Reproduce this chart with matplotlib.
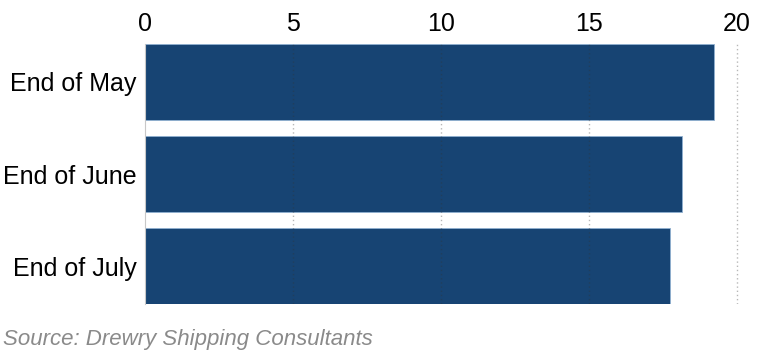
import matplotlib.pyplot as plt

# container spot rates by month-end
categories = ["End of May", "End of June", "End of July"]
values = [19.22, 18.13, 17.73]
xticks = [0, 5, 10, 15, 20]

plt.rcParams['font.family'] = ['Liberation Sans', 'DejaVu Sans']

fig = plt.figure(figsize=(7.69, 3.52), dpi=100)
W, H = 769, 352
x0, px_per = 145, 29.6
xmax = 20.2
ax = fig.add_axes([x0 / W, 1 - 304 / H, xmax * px_per / W, 260 / H])

ax.barh(range(len(categories)), values, height=0.82, color='#174473',
        edgecolor='#8fb0d0', linewidth=0.6, zorder=2)
ax.set_xlim(0, xmax)
ax.set_ylim(2.41, -0.41)
ax.set_yticks(range(len(categories)))
ax.set_yticklabels(categories, fontsize=18)
ax.set_xticks(xticks)
ax.set_xticklabels([str(t) for t in xticks], fontsize=18)
ax.xaxis.tick_top()
ax.tick_params(axis='both', length=0, pad=6)

for t in xticks[1:]:
    ax.axvline(t, color='#333333', alpha=0.35, linestyle=(0, (1, 2)),
               linewidth=1, zorder=3)

for s in ['top', 'right', 'bottom']:
    ax.spines[s].set_visible(False)
ax.spines['left'].set_color('#c8c8c8')
ax.spines['left'].set_linewidth(0.8)

fig.text(3 / W, 1 - 350 / H, "Source: Drewry Shipping Consultants",
         fontsize=16, style='italic', color='#8a8a8a', va='bottom', ha='left')

fig.savefig('out.png', dpi=100)
